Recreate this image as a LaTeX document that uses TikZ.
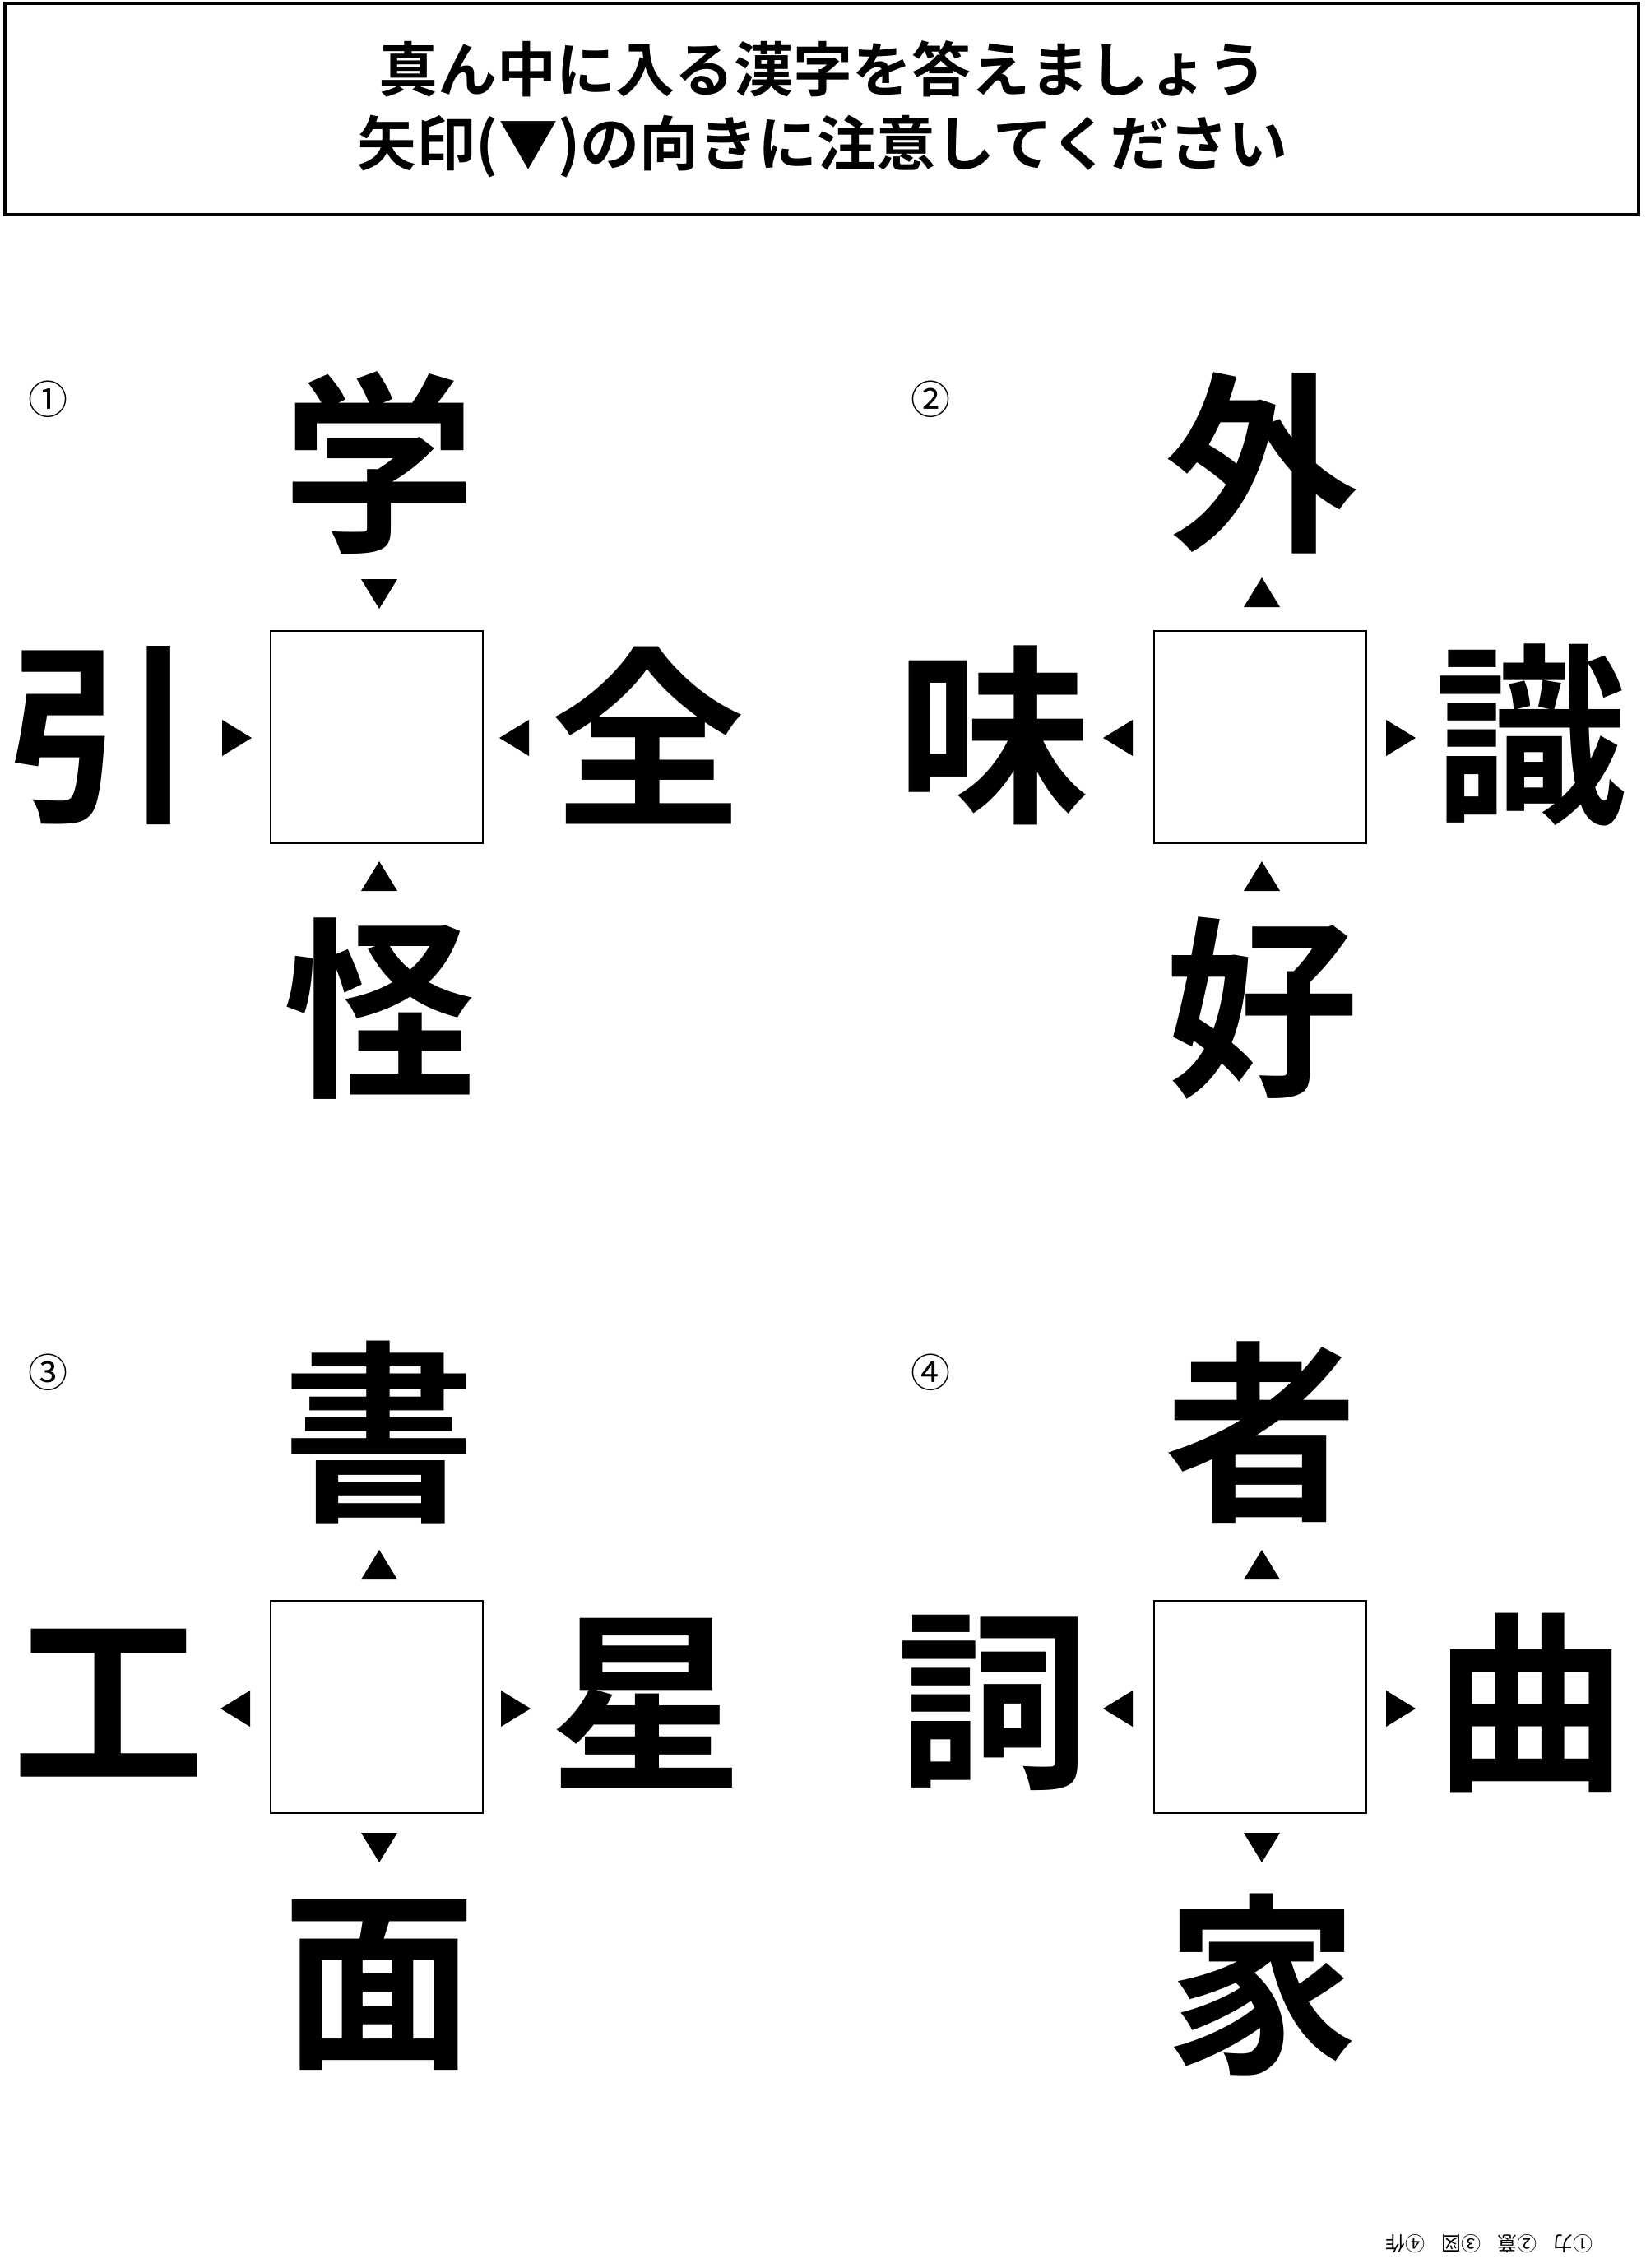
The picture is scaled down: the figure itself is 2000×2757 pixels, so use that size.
\documentclass[tikz,border=0pt]{standalone}
\usepackage{fontspec}
\newfontfamily\jpb{Noto Sans CJK JP Bold}
\newfontfamily\jp{Noto Sans CJK JP}
\tikzset{
  kan/.style={font=\jpb\fontsize{235}{235}\selectfont, inner sep=0pt},
  numl/.style={font=\jp\fontsize{48}{48}\selectfont, inner sep=0pt},
  hdr/.style={font=\jpb\fontsize{72}{90}\selectfont, align=center},
  blank/.style={draw, line width=2.5pt, minimum size=258pt, inner sep=0pt},
  tridown/.pic={\fill (-22,-17) -- (22,-17) -- (0,19) -- cycle;},
  triup/.pic={\fill (-22,17) -- (22,17) -- (0,-19) -- cycle;},
  triright/.pic={\fill (-17,-22) -- (-17,22) -- (19,0) -- cycle;},
  trileft/.pic={\fill (17,-22) -- (17,22) -- (-19,0) -- cycle;},
}
\begin{document}
\begin{tikzpicture}[x=1pt,y=-1pt]
\useasboundingbox (0,0) rectangle (2000,2757);
\fill[white] (0,0) rectangle (2000,2757);
\draw[line width=4pt] (6,4) rectangle (1992,261);
\node[hdr] (h) at (1000,133) {真ん中に入る漢字を答えましょう\\矢印(▼)の向きに注意してください};
% puzzle 1
\node[blank] (b1) at (458,896) {};
\node[numl] (n1) at (58,485) {①};
\node[kan] (t1) at (461,563) {学};
\node[kan] (l1) at (123,894) {引};
\node[kan] (r1) at (788,894) {全};
\node[kan] (d1) at (461,1226) {怪};
\pic at (461,721) {tridown};
\pic at (287,897) {triright};
\pic at (626,897) {trileft};
\pic at (461,1066) {triup};
% puzzle 2
\node[blank] (b2) at (1532,896) {};
\node[numl] (n2) at (1131,485) {②};
\node[kan] (t2) at (1534,563) {外};
\node[kan] (l2) at (1208,894) {味};
\node[kan] (r2) at (1861,894) {識};
\node[kan] (d2) at (1534,1226) {好};
\pic at (1534,721) {triup};
\pic at (1360,897) {trileft};
\pic at (1702,897) {triright};
\pic at (1534,1066) {triup};
% puzzle 3
\node[blank] (b3) at (458,2075) {};
\node[numl] (n3) at (58,1668) {③};
\node[kan] (t3) at (461,1741) {書};
\node[kan] (l3) at (132,2070) {工};
\node[kan] (r3) at (786,2070) {星};
\node[kan] (d3) at (461,2413) {面};
\pic at (461,1903) {triup};
\pic at (287,2077) {trileft};
\pic at (626,2077) {triright};
\pic at (461,2245) {tridown};
% puzzle 4
\node[blank] (b4) at (1532,2075) {};
\node[numl] (n4) at (1131,1668) {④};
\node[kan] (t4) at (1534,1741) {者};
\node[kan] (l4) at (1208,2070) {詞};
\node[kan] (r4) at (1861,2070) {曲};
\node[kan] (d4) at (1534,2413) {家};
\pic at (1534,1903) {triup};
\pic at (1360,2077) {trileft};
\pic at (1702,2077) {triright};
\pic at (1534,2245) {tridown};
% answers upside down
\node[font=\jp\fontsize{24}{24}\selectfont, rotate=180, inner sep=0pt] (ans) at (1810,2728) {①力\hspace{20pt}②意\hspace{20pt}③図\hspace{20pt}④作};
\end{tikzpicture}
\end{document}
